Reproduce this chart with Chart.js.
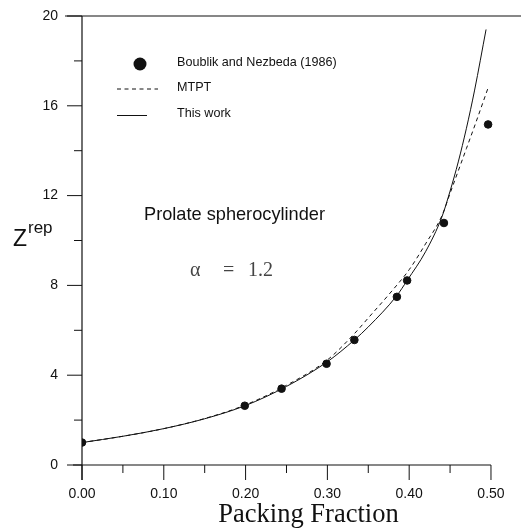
<!DOCTYPE html>
<html>
<head>
<meta charset="utf-8">
<script src="https://cdn.jsdelivr.net/npm/chart.js@4"></script>
<style>
  html, body { margin: 0; padding: 0; background: #fff; }
  #wrap { width: 521px; height: 528px; }
</style>
</head>
<body>
<div id="wrap"><canvas id="c" width="521" height="528"></canvas></div>
<script>
// ---- data ----
const simX = [0.0, 0.199, 0.244, 0.299, 0.333, 0.385, 0.3975, 0.4425, 0.4965];
const simY = [1.0, 2.64, 3.40, 4.51, 5.57, 7.49, 8.22, 10.78, 15.17];

const mtptX = [0.0, 0.05, 0.1, 0.15, 0.2, 0.25, 0.3, 0.333, 0.35, 0.38, 0.4, 0.42, 0.44, 0.45, 0.46, 0.47, 0.48, 0.496];
const mtptY = [1.0, 1.28, 1.62, 2.07, 2.68, 3.55, 4.68, 5.85, 6.55, 7.8, 8.7, 9.85, 11.1, 12.1, 13.1, 14.1, 15.1, 16.75];

const workX = [0.0, 0.05, 0.1, 0.15, 0.2, 0.25, 0.3, 0.333, 0.35, 0.385, 0.3975, 0.42, 0.44, 0.45, 0.46, 0.47, 0.48, 0.494];
const workY = [1.0, 1.28, 1.62, 2.06, 2.65, 3.5, 4.6, 5.57, 6.15, 7.55, 8.22, 9.5, 11.05, 12.2, 13.5, 15.0, 16.7, 19.4];

const xTicks = [0, 0.1, 0.2, 0.3, 0.4, 0.5];
const xTickLabels = ['0.00', '0.10', '0.20', '0.30', '0.40', '0.50'];
const xMinor = [0.05, 0.15, 0.25, 0.35, 0.45];
const yTicks = [0, 4, 8, 12, 16, 20];
const yTickLabels = ['0', '4', '8', '12', '16', '20'];
const yMinor = [2, 6, 10, 14, 18];

const seriesLabels = ['Boublik and Nezbeda (1986)', 'MTPT', 'This work'];
const xTitle = 'Packing Fraction';
const noteText = 'Prolate spherocylinder';
const alphaParts = ['α', '=', '1.2'];

const toPts = (xs, ys) => xs.map((x, i) => ({ x: x, y: ys[i] }));

const ink = '#111';

const decor = {
  id: 'decor',
  afterDraw(chart) {
    const ctx = chart.ctx;
    const xs = chart.scales.x, ys = chart.scales.y;
    const ca = chart.chartArea;
    const yb = ys.getPixelForValue(0);
    const yt = ys.getPixelForValue(20);
    ctx.save();
    ctx.strokeStyle = ink;
    ctx.lineWidth = 1.2;
    // axes lines
    ctx.beginPath();
    ctx.moveTo(ca.left - 17, yt); ctx.lineTo(chart.width, yt);         // top frame
    ctx.moveTo(ca.left, yt); ctx.lineTo(ca.left, yb + 15);             // left axis
    ctx.moveTo(ca.left - 9, yb); ctx.lineTo(xs.getPixelForValue(0.5), yb); // bottom axis
    ctx.stroke();
    // ticks
    ctx.lineWidth = 1;
    ctx.beginPath();
    xTicks.forEach(v => { const p = xs.getPixelForValue(v); ctx.moveTo(p, yb); ctx.lineTo(p, yb + 15); });
    xMinor.forEach(v => { const p = xs.getPixelForValue(v); ctx.moveTo(p, yb); ctx.lineTo(p, yb + 8); });
    yTicks.forEach(v => { const p = ys.getPixelForValue(v); ctx.moveTo(ca.left - 15, p); ctx.lineTo(ca.left, p); });
    yMinor.forEach(v => { const p = ys.getPixelForValue(v); ctx.moveTo(ca.left - 8, p); ctx.lineTo(ca.left, p); });
    ctx.stroke();

    // legend
    const ds = chart.data.datasets;
    ctx.fillStyle = ink;
    ctx.font = '12.6px "Liberation Sans", Arial, sans-serif';
    ctx.textBaseline = 'middle';
    ctx.textAlign = 'left';
    ctx.beginPath(); ctx.arc(140, 64, 6.5, 0, Math.PI * 2); ctx.fill();
    ctx.fillText(ds[0].label, 177, 63);
    ctx.setLineDash([4, 3.5]);
    ctx.beginPath(); ctx.moveTo(117, 89); ctx.lineTo(158, 89); ctx.stroke();
    ctx.setLineDash([]);
    ctx.fillText(ds[1].label, 177, 88);
    ctx.beginPath(); ctx.moveTo(117, 115.5); ctx.lineTo(147, 115.5); ctx.stroke();
    ctx.fillText(ds[2].label, 177, 114);

    // annotations
    ctx.font = '18.2px "Liberation Sans", Arial, sans-serif';
    ctx.fillText(noteText, 144, 215);
    ctx.textBaseline = 'alphabetic';
    ctx.fillStyle = '#444';
    ctx.font = '20px "Liberation Serif", "Times New Roman", serif';
    ctx.fillText(alphaParts[0], 190, 276);
    ctx.fillText(alphaParts[1], 223, 276);
    ctx.fillText(alphaParts[2], 248, 276);

    // y title Z^rep
    ctx.fillStyle = ink;
    ctx.font = '23px "Liberation Sans", Arial, sans-serif';
    ctx.fillText('Z', 13, 246);
    ctx.font = '17px "Liberation Sans", Arial, sans-serif';
    ctx.fillText('rep', 28, 233);

    // x title
    ctx.textAlign = 'center';
    ctx.font = '26.5px "Liberation Serif", "Times New Roman", serif';
    ctx.fillText(xTitle, 308.5, 521.5);
    ctx.restore();
  }
};

new Chart(document.getElementById('c'), {
  type: 'scatter',
  data: {
    datasets: [
      {
        label: seriesLabels[0],
        data: toPts(simX, simY),
        pointRadius: 3.8,
        pointBackgroundColor: ink,
        pointBorderColor: ink,
        showLine: false,
        order: 0
      },
      {
        label: seriesLabels[1],
        data: toPts(mtptX, mtptY),
        showLine: true,
        pointRadius: 0,
        borderColor: ink,
        borderWidth: 1,
        borderDash: [4, 3.5],
        cubicInterpolationMode: 'monotone',
        order: 1
      },
      {
        label: seriesLabels[2],
        data: toPts(workX, workY),
        showLine: true,
        pointRadius: 0,
        borderColor: ink,
        borderWidth: 1,
        cubicInterpolationMode: 'monotone',
        order: 2
      }
    ]
  },
  options: {
    responsive: false,
    animation: false,
    devicePixelRatio: 1,
    layout: { padding: { top: 16, left: 0, right: 0, bottom: 0 } },
    plugins: { legend: { display: false }, tooltip: { enabled: false } },
    scales: {
      x: {
        type: 'linear',
        min: 0,
        max: 0.5306,
        afterBuildTicks: s => { s.ticks = xTicks.map(v => ({ value: v })); },
        afterFit: s => { s.height = 63; s.paddingLeft = 0; s.paddingRight = 0; },
        ticks: {
          autoSkip: false,
          maxRotation: 0,
          padding: 6,
          color: ink,
          font: { family: '"Liberation Sans", Arial, sans-serif', size: 14 },
          callback: v => xTickLabels[xTicks.indexOf(v)]
        },
        grid: { display: true, drawOnChartArea: false, drawTicks: true, tickLength: 15, tickColor: 'transparent' },
        border: { display: false }
      },
      y: {
        type: 'linear',
        min: 0,
        max: 20,
        afterBuildTicks: s => { s.ticks = yTicks.map(v => ({ value: v })); },
        afterFit: s => { s.width = 82; s.paddingTop = 0; s.paddingBottom = 0; },
        ticks: {
          autoSkip: false,
          padding: 9,
          color: ink,
          font: { family: '"Liberation Sans", Arial, sans-serif', size: 14 },
          callback: v => yTickLabels[yTicks.indexOf(v)]
        },
        grid: { display: true, drawOnChartArea: false, drawTicks: true, tickLength: 15, tickColor: 'transparent' },
        border: { display: false }
      }
    }
  },
  plugins: [decor]
});
</script>
</body>
</html>
